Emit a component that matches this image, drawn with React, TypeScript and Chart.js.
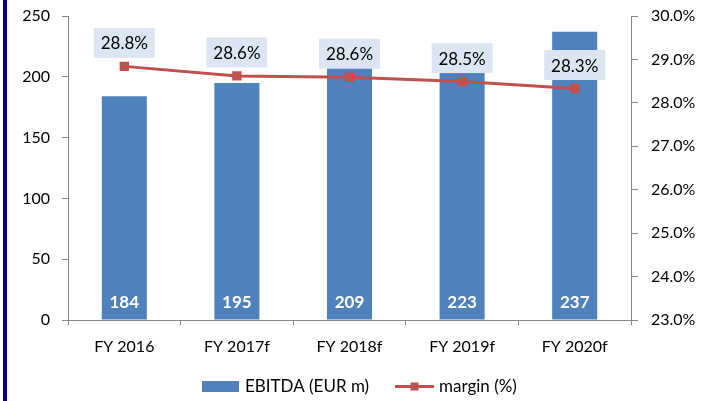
import React, { useEffect, useRef } from "react";
import { Chart, registerables } from "chart.js";

Chart.register(...registerables);

const categories = ["FY 2016", "FY 2017f", "FY 2018f", "FY 2019f", "FY 2020f"];
const ebitda = [184, 195, 209, 223, 237];
const margin = [28.84, 28.62, 28.59, 28.49, 28.33];
const leftTicks = { min: 0, max: 250, step: 50 };
const rightTicks = { min: 23, max: 30, step: 1 };
const seriesNames = ["EBITDA (EUR m)", "margin (%)"];

const BAR_COLOR = "#4F81BD";
const LINE_COLOR = "#C0504D";
const AXIS_COLOR = "#868686";
const LABEL_BG = "#DCE6F2";
const FONT = "Lato, 'Open Sans', sans-serif";

export default function App() {
  const ref = useRef<HTMLCanvasElement | null>(null);

  useEffect(() => {
    const canvas = ref.current;
    if (!canvas) return;

    const labelsPlugin = {
      id: "labelsPlugin",
      afterDatasetsDraw(chart: any) {
        const ctx = chart.ctx;
        ctx.save();
        const barMeta = chart.getDatasetMeta(0);
        const y0 = chart.scales.y.getPixelForValue(0);
        ctx.font = `bold 17px ${FONT}`;
        ctx.fillStyle = "#FFFFFF";
        ctx.textAlign = "center";
        ctx.textBaseline = "middle";
        barMeta.data.forEach((el: any, i: number) => {
          ctx.fillText(String(ebitda[i]), el.x, y0 - 17);
        });
        const lineMeta = chart.getDatasetMeta(1);
        ctx.font = `17px ${FONT}`;
        lineMeta.data.forEach((el: any, i: number) => {
          const cx = el.x;
          const cy = el.y - 23.5;
          ctx.fillStyle = LABEL_BG;
          ctx.fillRect(cx - 30.5, cy - 15, 61, 30);
          ctx.fillStyle = "#000000";
          ctx.fillText(margin[i].toFixed(1) + "%", cx, cy + 1);
        });
        ctx.restore();
      },
      afterDraw(chart: any) {
        const ctx = chart.ctx;
        ctx.save();
        const ly = 386.5;
        ctx.fillStyle = BAR_COLOR;
        ctx.fillRect(202, ly - 5.5, 37, 11);
        ctx.font = `17px ${FONT}`;
        ctx.fillStyle = "#000000";
        ctx.textAlign = "left";
        ctx.textBaseline = "middle";
        ctx.fillText(seriesNames[0], 245, ly);
        ctx.strokeStyle = LINE_COLOR;
        ctx.lineWidth = 3;
        ctx.beginPath();
        ctx.moveTo(395, ly);
        ctx.lineTo(434, ly);
        ctx.stroke();
        ctx.fillStyle = LINE_COLOR;
        ctx.fillRect(414.5 - 4, ly - 4, 8, 8);
        ctx.fillStyle = "#000000";
        ctx.fillText(seriesNames[1], 439, ly);
        ctx.restore();
      },
    };

    const fitV = (w: number) => (scale: any) => {
      scale.width = w;
      scale.paddingTop = 0;
      scale.paddingBottom = 0;
    };

    const chart = new Chart(canvas, {
      type: "bar",
      data: {
        labels: categories,
        datasets: [
          {
            type: "bar",
            label: seriesNames[0],
            data: ebitda,
            backgroundColor: BAR_COLOR,
            borderWidth: 0,
            categoryPercentage: 0.4,
            barPercentage: 1,
            yAxisID: "y",
            order: 2,
          },
          {
            type: "line",
            label: seriesNames[1],
            data: margin,
            borderColor: LINE_COLOR,
            backgroundColor: LINE_COLOR,
            borderWidth: 3,
            pointStyle: "rect",
            pointRadius: 4.5,
            pointBackgroundColor: LINE_COLOR,
            pointBorderColor: LINE_COLOR,
            tension: 0,
            yAxisID: "y1",
            order: 1,
          },
        ] as any,
      },
      options: {
        responsive: false,
        animation: false,
        events: [],
        layout: { padding: { top: 16, bottom: 41, left: 0, right: 0 } },
        plugins: {
          legend: { display: false },
          tooltip: { enabled: false },
        },
        scales: {
          x: {
            offset: true,
            grid: {
              display: true,
              offset: true,
              drawOnChartArea: false,
              drawTicks: true,
              tickLength: 5,
              color: AXIS_COLOR,
            },
            border: { color: AXIS_COLOR, width: 1 },
            ticks: {
              font: { family: FONT, size: 16 },
              color: "#000000",
              padding: 12,
              maxRotation: 0,
            },
            afterFit(scale: any) {
              scale.height = 40;
              scale.paddingLeft = 0;
              scale.paddingRight = 0;
            },
          },
          y: {
            position: "left",
            min: leftTicks.min,
            max: leftTicks.max,
            grid: {
              drawOnChartArea: false,
              tickLength: 6,
              color: AXIS_COLOR,
            },
            border: { color: AXIS_COLOR, width: 1 },
            ticks: {
              stepSize: leftTicks.step,
              font: { family: FONT, size: 16 },
              color: "#000000",
              padding: 12,
            },
            afterFit: fitV(68),
          },
          y1: {
            position: "right",
            min: rightTicks.min,
            max: rightTicks.max,
            grid: {
              drawOnChartArea: false,
              tickLength: 7,
              color: AXIS_COLOR,
            },
            border: { color: AXIS_COLOR, width: 1 },
            ticks: {
              stepSize: rightTicks.step,
              font: { family: FONT, size: 16 },
              color: "#000000",
              padding: 13,
              callback: (v: any) => Number(v).toFixed(1) + "%",
            },
            afterFit: fitV(84),
          },
        },
      } as any,
      plugins: [labelsPlugin],
    });

    return () => chart.destroy();
  }, []);

  return (
    <div
      style={{
        position: "fixed",
        left: 0,
        top: 0,
        width: 715,
        height: 401,
        background: "#FFFFFF",
        overflow: "hidden",
      }}
    >
      <div
        style={{
          position: "absolute",
          left: 3,
          top: 0,
          width: 4,
          height: 401,
          background: "#000080",
        }}
      />
      <canvas
        ref={ref}
        width={715}
        height={401}
        style={{ position: "absolute", left: 0, top: 0, width: 715, height: 401 }}
      />
    </div>
  );
}
